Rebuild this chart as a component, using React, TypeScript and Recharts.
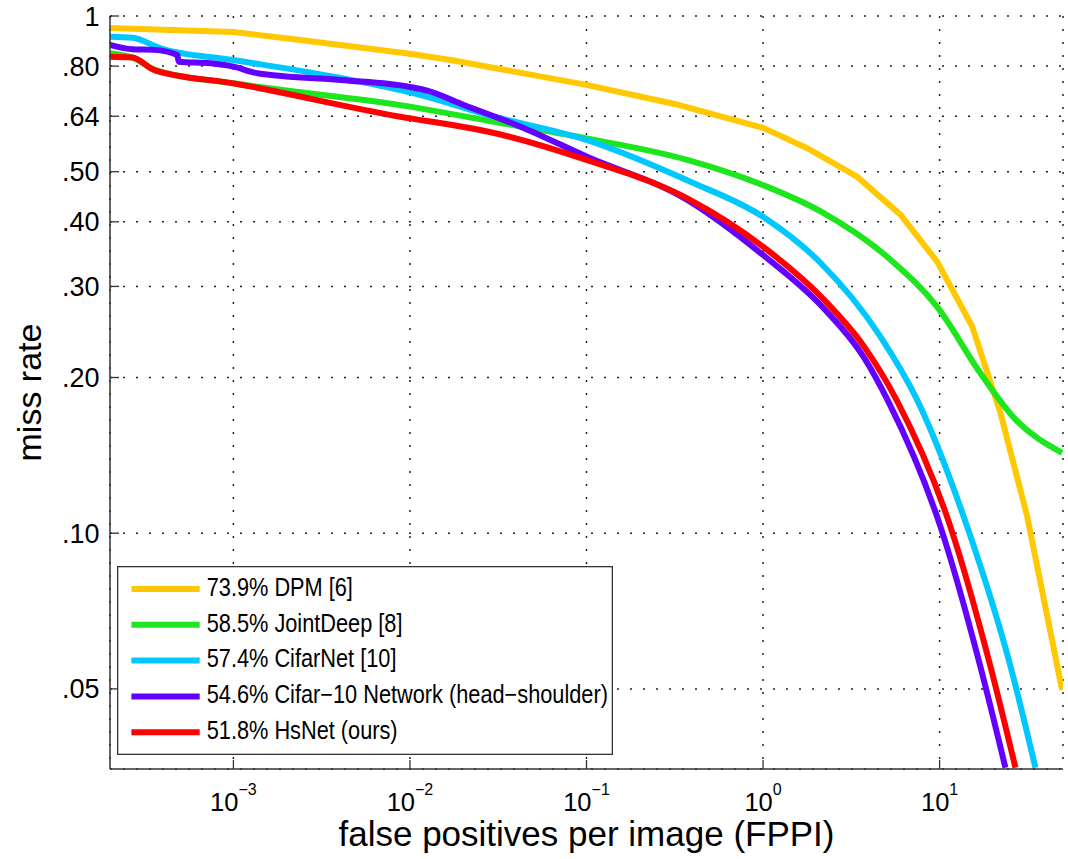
import { LineChart, Line, XAxis, YAxis, CartesianGrid, Legend, Label } from 'recharts';

// miss rate vs FPPI
const dpmFppi = [0.0002, 0.001, 0.0024, 0.01, 0.017, 0.1, 0.316, 1.0, 1.78, 3.41, 6.0, 9.69, 15.3, 22.1, 31.3, 49.4];
const dpmMiss = [0.948, 0.931, 0.899, 0.845, 0.822, 0.736, 0.676, 0.608, 0.555, 0.489, 0.413, 0.335, 0.251, 0.171, 0.108, 0.0498];

const jointFppi = [0.0002, 0.000272, 0.000363, 0.001, 0.01, 0.0274, 0.1, 0.372, 1.0, 2.12, 5.27, 9.69, 17.0, 26.9, 49.4];
const jointMiss = [0.847, 0.829, 0.786, 0.741, 0.668, 0.628, 0.58, 0.527, 0.471, 0.419, 0.338, 0.274, 0.204, 0.166, 0.143];

const cifarNetFppi = [0.0002, 0.000268, 0.000387, 0.001, 0.00405, 0.01253, 0.0274, 0.1, 0.388, 1.0, 2.12, 4.62, 7.46, 14.3, 25.2, 34.9];
const cifarNetMiss = [0.912, 0.908, 0.866, 0.822, 0.759, 0.698, 0.644, 0.576, 0.478, 0.409, 0.333, 0.24, 0.181, 0.1031, 0.0553, 0.0352];

const cifar10Fppi = [0.0002, 0.000268, 0.000354, 0.000481, 0.00049, 0.000743, 0.001, 0.00137, 0.00405, 0.01, 0.01253, 0.0202, 0.0423, 0.1, 0.372, 1.0, 2.21, 3.72, 5.07, 10.1, 17.0, 23.6];
const cifar10Miss = [0.879, 0.862, 0.86, 0.841, 0.816, 0.81, 0.798, 0.775, 0.752, 0.729, 0.717, 0.673, 0.611, 0.535, 0.441, 0.345, 0.272, 0.219, 0.181, 0.1031, 0.0553, 0.0352];

const hsNetFppi = [0.0002, 0.000268, 0.000357, 0.001, 0.01, 0.017, 0.0274, 0.1, 0.372, 1.0, 2.21, 3.72, 5.7, 11.5, 19.4, 26.9];
const hsNetMiss = [0.834, 0.831, 0.786, 0.741, 0.634, 0.616, 0.598, 0.527, 0.444, 0.358, 0.283, 0.23, 0.181, 0.1031, 0.0553, 0.0352];

const xTicks = [0.001, 0.01, 0.1, 1, 10];
const xTickExps = ['−3', '−2', '−1', '0', '1'];
const yTicks = [0.05, 0.1, 0.2, 0.3, 0.4, 0.5, 0.64, 0.8, 1];
const yTickLabels = ['.05', '.10', '.20', '.30', '.40', '.50', '.64', '.80', '1'];

const FONT = "'Liberation Sans', Arial, Helvetica, sans-serif";
const AXIS_COLOR = '#333';
const LINE_W = 6;

const toPoints = (fppi: number[], miss: number[]) =>
  fppi.map((f, i) => ({ fppi: f, miss: miss[i] }));

const series = [
  { name: '73.9% DPM [6]', color: '#ffc800', curve: 'linear', data: toPoints(dpmFppi, dpmMiss) },
  { name: '58.5% JointDeep [8]', color: '#1ee61e', curve: 'monotone', data: toPoints(jointFppi, jointMiss) },
  { name: '57.4% CifarNet [10]', color: '#00c8ff', curve: 'monotone', data: toPoints(cifarNetFppi, cifarNetMiss) },
  { name: '54.6% Cifar−10 Network (head−shoulder)', color: '#6400ff', curve: 'monotone', data: toPoints(cifar10Fppi, cifar10Miss) },
  { name: '51.8% HsNet (ours)', color: '#ff0000', curve: 'monotone', data: toPoints(hsNetFppi, hsNetMiss) },
];
const seriesOrder = series.map((s) => s.name);

function XTick({ x, y, payload }: any) {
  const i = xTicks.indexOf(payload.value);
  return (
    <g>
      <line x1={x} x2={x} y1={y} y2={y - 9} stroke={AXIS_COLOR} strokeWidth={1.3} />
      <text x={x} y={y + 41.5} textAnchor="middle" fontSize={25.5} fontFamily={FONT} fill="#000">
        10
        <tspan dy={-16} fontSize={16}>
          {xTickExps[i]}
        </tspan>
      </text>
    </g>
  );
}

function YTick({ x, y, payload }: any) {
  const i = yTicks.indexOf(payload.value);
  return (
    <g>
      <line x1={x} x2={x + 9} y1={y} y2={y} stroke={AXIS_COLOR} strokeWidth={1.3} />
      <text x={x - 10.5} y={y + 9.5} textAnchor="end" fontSize={27} fontFamily={FONT} fill="#000">
        {yTickLabels[i]}
      </text>
    </g>
  );
}

function LegendBox({ payload }: any) {
  // keep the plotting order, not the alphabetical one
  const items = [...(payload ?? [])].sort(
    (a: any, b: any) => seriesOrder.indexOf(a.value) - seriesOrder.indexOf(b.value)
  );
  return (
    <svg width={496} height={189} style={{ display: 'block' }}>
      <rect x={0.65} y={0.65} width={494.7} height={187.7} fill="#fff" stroke={AXIS_COLOR} strokeWidth={1.3} />
      {items.map((p: any, i: number) => {
        const rowY = 23 + i * 35.8;
        return (
          <g key={p.value}>
            <line x1={14.4} x2={82.7} y1={rowY} y2={rowY} stroke={p.color} strokeWidth={LINE_W} />
            <text
              transform={`translate(89.7,${rowY + 6.7}) scale(0.87,1)`}
              fontSize={25}
              fontFamily={FONT}
              fill="#000"
            >
              {p.value}
            </text>
          </g>
        );
      })}
    </svg>
  );
}

export default function App() {
  return (
    <div style={{ position: 'absolute', left: 0, top: 0, width: 1068, height: 859, background: '#fff' }}>
      <LineChart width={1068} height={859} margin={{ top: 16, right: 5, bottom: 30, left: 10 }}>
        <CartesianGrid stroke="#222" strokeWidth={1.5} strokeDasharray="2 11" />
        <XAxis
          dataKey="fppi"
          type="number"
          scale="log"
          domain={[0.0002, 50]}
          allowDataOverflow
          ticks={xTicks}
          interval={0}
          height={60}
          tickSize={0}
          tickMargin={0}
          tick={<XTick />}
          axisLine={{ stroke: AXIS_COLOR, strokeWidth: 1.5 }}
          tickLine={false}
        >
          <Label
            content={({ viewBox }: any) => (
              <text
                x={viewBox.x + viewBox.width / 2}
                y={viewBox.y + 77}
                textAnchor="middle"
                fontSize={35}
                fontFamily={FONT}
                fill="#000"
              >
                false positives per image (FPPI)
              </text>
            )}
          />
        </XAxis>
        <YAxis
          type="number"
          scale="log"
          domain={[0.035, 1]}
          allowDataOverflow
          ticks={yTicks}
          interval={0}
          width={100}
          tickSize={0}
          tickMargin={0}
          tick={<YTick />}
          axisLine={{ stroke: AXIS_COLOR, strokeWidth: 1.5 }}
          tickLine={false}
        >
          <Label
            content={({ viewBox }: any) => {
              const cx = 41;
              const cy = viewBox.y + viewBox.height / 2;
              return (
                <text
                  x={cx}
                  y={cy}
                  transform={`rotate(-90, ${cx}, ${cy})`}
                  textAnchor="middle"
                  fontSize={34}
                  fontFamily={FONT}
                  fill="#000"
                >
                  miss rate
                </text>
              );
            }}
          />
        </YAxis>
        {series.map((s) => (
          <Line
            key={s.name}
            name={s.name}
            data={s.data}
            dataKey="miss"
            type={s.curve as any}
            stroke={s.color}
            strokeWidth={LINE_W}
            dot={false}
            activeDot={false}
            isAnimationActive={false}
          />
        ))}
        <Legend
          layout="vertical"
          align="center"
          verticalAlign="middle"
          wrapperStyle={{ left: 117, top: 566, width: 496, height: 189 }}
          content={<LegendBox />}
        />
      </LineChart>
    </div>
  );
}
